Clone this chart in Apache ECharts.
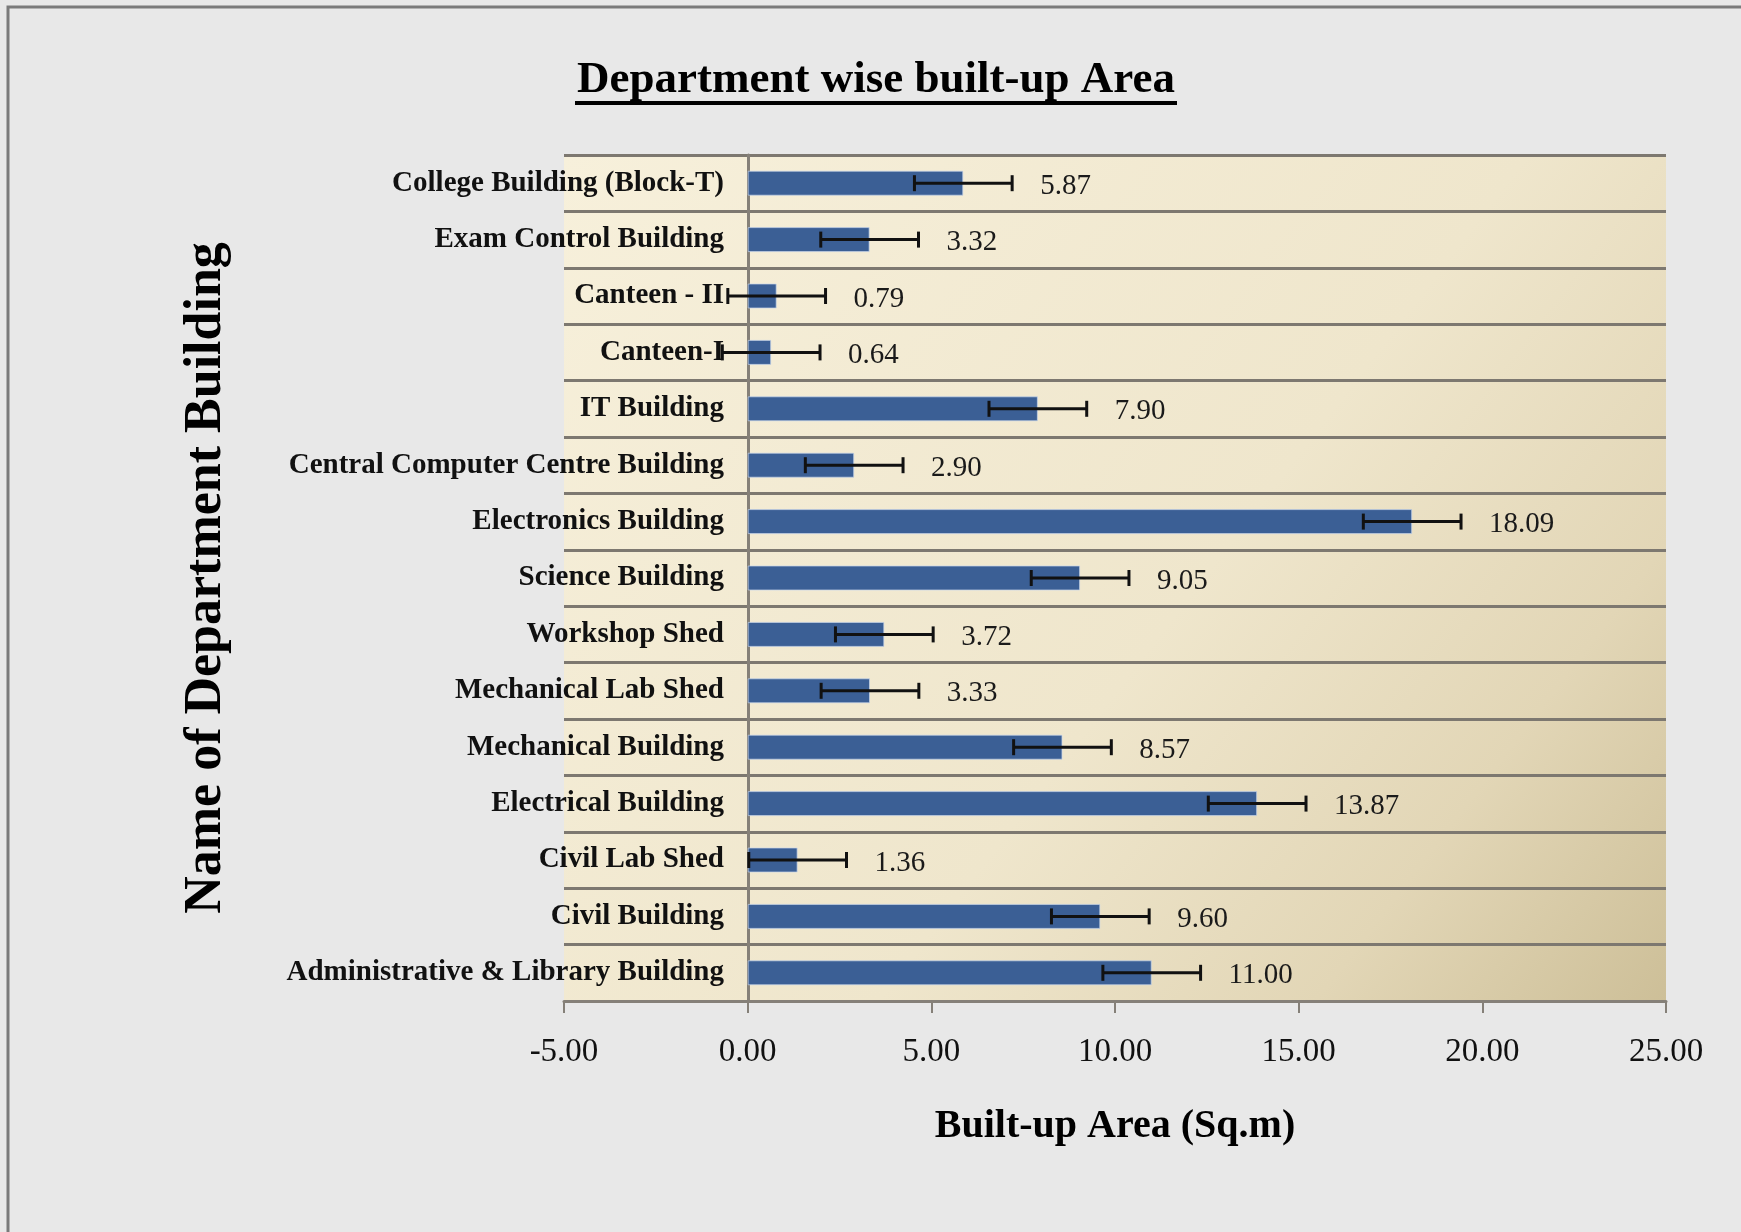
<!DOCTYPE html>
<html>
<head>
<meta charset="utf-8">
<title>Department wise built-up Area</title>
<script src="https://cdn.jsdelivr.net/npm/echarts@6/dist/echarts.min.js"></script>
<style>
    html, body { margin: 0; padding: 0; background: #e8e8e8; }
    #mainchart { width: 1741px; height: 1232px; }
</style>
</head>
<body>
<div id="mainchart"></div>
<script>
// categories, listed bottom to top as ECharts draws them
var buildings = [
    'Administrative & Library Building',
    'Civil Building',
    'Civil Lab Shed',
    'Electrical Building',
    'Mechanical Building',
    'Mechanical Lab Shed',
    'Workshop Shed',
    'Science Building',
    'Electronics Building',
    'Central Computer Centre Building',
    'IT Building',
    'Canteen-I',
    'Canteen - II',
    'Exam Control Building',
    'College Building (Block-T)'
];
var areas = [11.00, 9.60, 1.36, 13.87, 8.57, 3.33, 3.72, 9.05, 18.09, 2.90, 7.90, 0.64, 0.79, 3.32, 5.87];
// error bar half width
var errors = [1.33, 1.33, 1.33, 1.33, 1.33, 1.33, 1.33, 1.33, 1.33, 1.33, 1.33, 1.33, 1.33, 1.33, 1.33];
var xMin = -5, xMax = 25, xStep = 5;

var serif = '"Liberation Serif", "Times New Roman", serif';

var errData = buildings.map(function (b, i) {
    return [i, areas[i] - errors[i], areas[i] + errors[i], areas[i]];
});

function renderErrorBar(params, api) {
    var i = api.value(0);
    var lo = api.coord([api.value(1), i]);
    var hi = api.coord([api.value(2), i]);
    var cap = 8;
    var st = { stroke: '#111', lineWidth: 3 };
    return {
        type: 'group',
        children: [
            { type: 'line', shape: { x1: lo[0], y1: lo[1], x2: hi[0], y2: hi[1] }, style: st },
            { type: 'line', shape: { x1: lo[0], y1: lo[1] - cap, x2: lo[0], y2: lo[1] + cap }, style: st },
            { type: 'line', shape: { x1: hi[0], y1: hi[1] - cap, x2: hi[0], y2: hi[1] + cap }, style: st },
            {
                type: 'text', x: hi[0] + 28, y: hi[1] + 3,
                style: {
                    text: api.value(3).toFixed(2),
                    fontFamily: serif, fontSize: 29, fill: '#1a1a1a',
                    align: 'left', verticalAlign: 'middle'
                }
            }
        ]
    };
}

var myChart = echarts.init(document.getElementById('mainchart'));

var option = {
    backgroundColor: '#e8e8e8',
    animation: false,
    grid: {
        left: 564, right: 75, top: 155, bottom: 231,
        outerBoundsMode: 'none',
        show: true,
        borderWidth: 0,
        backgroundColor: new echarts.graphic.LinearGradient(0, 0, 1, 1, [
            { offset: 0, color: '#f7f0db' },
            { offset: 0.55, color: '#efe6cc' },
            { offset: 0.8, color: '#e2d6b6' },
            { offset: 1, color: '#cdbf98' }
        ])
    },
    graphic: [
        {
            type: 'rect', silent: true,
            shape: { x: 8, y: 7, width: 1800, height: 1300 },
            style: { fill: 'none', stroke: '#7a7a7a', lineWidth: 3 }
        },
        {
            type: 'text', x: 876, y: 80,
            style: {
                text: 'Department wise built-up Area',
                fontFamily: serif, fontSize: 45, fontWeight: 'bold', fill: '#000',
                align: 'center', verticalAlign: 'middle'
            }
        },
        {
            type: 'rect', shape: { x: 575, y: 101, width: 602, height: 4 },
            style: { fill: '#000' }
        },
        {
            type: 'text', x: 207, y: 578, rotation: Math.PI / 2,
            style: {
                text: 'Name of Department Building',
                fontFamily: serif, fontSize: 52, fontWeight: 'bold', fill: '#000',
                align: 'center', verticalAlign: 'middle'
            }
        }
    ],
    xAxis: {
        type: 'value',
        min: xMin, max: xMax, interval: xStep,
        name: 'Built-up Area (Sq.m)',
        nameLocation: 'middle',
        nameGap: 106,
        nameTextStyle: { fontFamily: serif, fontSize: 40, fontWeight: 'bold', color: '#000' },
        axisLine: { show: true, lineStyle: { color: '#858078', width: 3 } },
        axisTick: { show: true, inside: false, length: 12, lineStyle: { color: '#858078', width: 2 } },
        axisLabel: {
            margin: 35,
            fontFamily: serif, fontSize: 33, color: '#111',
            formatter: function (v) { return v.toFixed(2); }
        },
        splitLine: { show: false }
    },
    yAxis: {
        type: 'category',
        data: buildings,
        // axis line and labels sit on the x = 0 position
        offset: -184,
        axisLine: { show: true, onZero: false, lineStyle: { color: '#858078', width: 3 } },
        axisTick: { show: false },
        axisLabel: {
            margin: 24,
            padding: [8, 0, 0, 0],
            fontFamily: serif, fontSize: 29, fontWeight: 'bold', color: '#111'
        },
        splitLine: { show: true, lineStyle: { color: '#7d7870', width: 3 } }
    },
    series: [
        {
            name: 'Built-up Area',
            type: 'bar',
            data: areas,
            barWidth: 25,
            itemStyle: { color: '#3b5f95', borderColor: 'rgba(200,214,235,0.7)', borderWidth: 1 }
        },
        {
            name: 'Error',
            type: 'custom',
            renderItem: renderErrorBar,
            data: errData,
            z: 10
        }
    ]
};

myChart.setOption(option);
</script>
</body>
</html>
